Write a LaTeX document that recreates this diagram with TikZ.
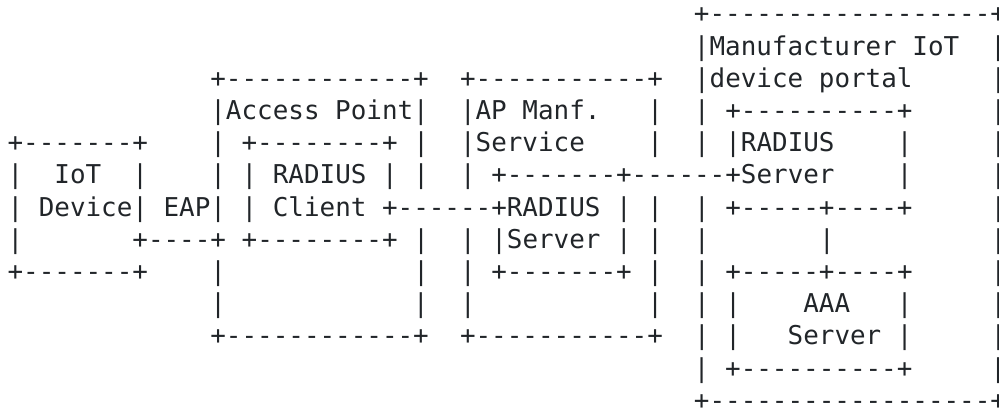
\documentclass[tikz,border=0pt]{standalone}
\usepackage{fontspec}
\setmonofont{DejaVu Sans Mono}
\definecolor{ink}{HTML}{212529}
\begin{document}
\begin{tikzpicture}[x=7.8pt, y=-16.1pt, asciirow/.style={font=\ttfamily\fontsize{12.96}{16}\selectfont, text=ink, anchor=base west, inner sep=0pt}]
\useasboundingbox (-0.4615,-0.419) rectangle (63.58,12.314);
\node[asciirow] (r0) at (44,0.29) {+------------------+};
\node[asciirow] (r1) at (44,1.29) {|Manufacturer~IoT~~|};
\node[asciirow] (r2) at (13,2.29) {+------------+~~+-----------+~~|device~portal~~~~~|};
\node[asciirow] (r3) at (13,3.29) {|Access~Point|~~|AP~Manf.~~~|~~|~+----------+~~~~~|};
\node[asciirow] (r4) at (0,4.29) {+-------+~~~~|~+--------+~|~~|Service~~~~|~~|~|RADIUS~~~~|~~~~~|};
\node[asciirow] (r5) at (0,5.29) {|~~IoT~~|~~~~|~|~RADIUS~|~|~~|~+-------+------+Server~~~~|~~~~~|};
\node[asciirow] (r6) at (0,6.29) {|~Device|~EAP|~|~Client~+------+RADIUS~|~|~~|~+-----+----+~~~~~|};
\node[asciirow] (r7) at (0,7.29) {|~~~~~~~+----+~+--------+~|~~|~|Server~|~|~~|~~~~~~~|~~~~~~~~~~|};
\node[asciirow] (r8) at (0,8.29) {+-------+~~~~|~~~~~~~~~~~~|~~|~+-------+~|~~|~+-----+----+~~~~~|};
\node[asciirow] (r9) at (13,9.29) {|~~~~~~~~~~~~|~~|~~~~~~~~~~~|~~|~|~~~~AAA~~~|~~~~~|};
\node[asciirow] (r10) at (13,10.29) {+------------+~~+-----------+~~|~|~~~Server~|~~~~~|};
\node[asciirow] (r11) at (44,11.29) {|~+----------+~~~~~|};
\node[asciirow] (r12) at (44,12.29) {+------------------+};
\end{tikzpicture}
\end{document}
